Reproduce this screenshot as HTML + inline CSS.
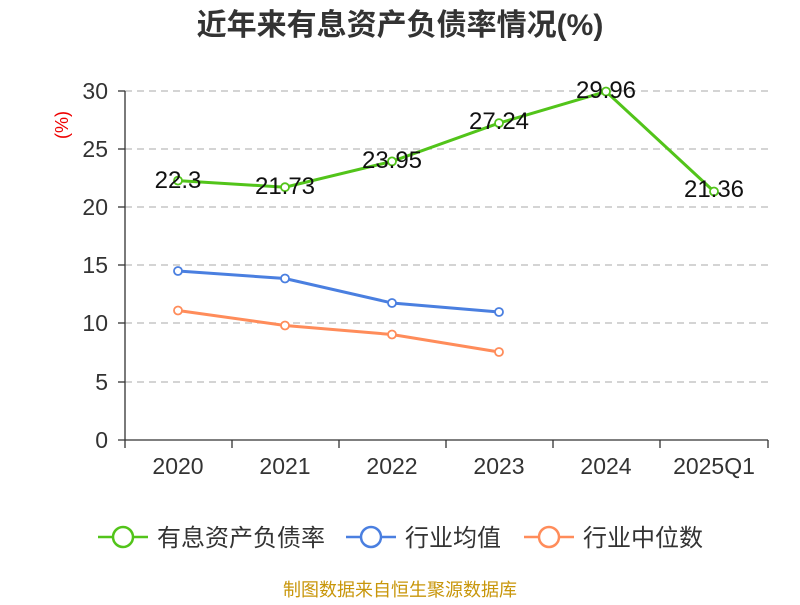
<!DOCTYPE html>
<html><head><meta charset="utf-8"><style>
body{margin:0;background:#fff;}
text{font-family:"Liberation Sans","Noto Sans CJK SC",sans-serif;}
</style></head><body>
<svg width="800" height="600" viewBox="0 0 800 600" xmlns="http://www.w3.org/2000/svg">
<rect width="800" height="600" fill="#fff"/>
<text x="400" y="35" text-anchor="middle" font-size="30" font-weight="bold" fill="#333">近年来有息资产负债率情况(%)</text>
<text x="68" y="125" font-size="18" fill="#e00" text-anchor="middle" transform="rotate(-90 68 125)">(%)</text>
<g stroke="#bbb" stroke-dasharray="7,5" stroke-width="1.3">
<line x1="125" y1="91" x2="768" y2="91"/>
<line x1="125" y1="149" x2="768" y2="149"/>
<line x1="125" y1="207" x2="768" y2="207"/>
<line x1="125" y1="265" x2="768" y2="265"/>
<line x1="125" y1="323" x2="768" y2="323"/>
<line x1="125" y1="382" x2="768" y2="382"/>
</g>
<g stroke="#333" stroke-width="1.3">
<line x1="125" y1="91" x2="125" y2="440"/>
<line x1="118" y1="91" x2="125" y2="91"/>
<line x1="118" y1="149" x2="125" y2="149"/>
<line x1="118" y1="207" x2="125" y2="207"/>
<line x1="118" y1="265" x2="125" y2="265"/>
<line x1="118" y1="323" x2="125" y2="323"/>
<line x1="118" y1="382" x2="125" y2="382"/>
<line x1="118" y1="440" x2="768" y2="440"/>
<line x1="125" y1="440" x2="125" y2="448"/>
<line x1="232" y1="440" x2="232" y2="448"/>
<line x1="339" y1="440" x2="339" y2="448"/>
<line x1="446" y1="440" x2="446" y2="448"/>
<line x1="553" y1="440" x2="553" y2="448"/>
<line x1="660" y1="440" x2="660" y2="448"/>
<line x1="768" y1="440" x2="768" y2="448"/>
</g>
<g font-size="23" fill="#333" text-anchor="end">
<text x="108" y="99">30</text><text x="108" y="157">25</text><text x="108" y="215">20</text>
<text x="108" y="273">15</text><text x="108" y="331">10</text><text x="108" y="390">5</text><text x="108" y="448">0</text>
</g>
<g font-size="23" fill="#333" text-anchor="middle">
<text x="178" y="474">2020</text><text x="285" y="474">2021</text><text x="392" y="474">2022</text>
<text x="499" y="474">2023</text><text x="606" y="474">2024</text><text x="714" y="474">2025Q1</text>
</g>
<polyline fill="none" stroke="#52c41a" stroke-width="3" points="178,180.6 285,187.2 392,161.4 499,123.1 606,91.5 714,191.5"/>
<polyline fill="none" stroke="#4a7fe0" stroke-width="3" points="178,271 285,278.5 392,303 499,312"/>
<polyline fill="none" stroke="#ff8c5a" stroke-width="3" points="178,310.5 285,325.5 392,334.5 499,352"/>
<g fill="#fff" stroke-width="1.8">
<g stroke="#52c41a"><circle cx="178" cy="180.6" r="4"/><circle cx="285" cy="187.2" r="4"/><circle cx="392" cy="161.4" r="4"/><circle cx="499" cy="123.1" r="4"/><circle cx="606" cy="91.5" r="4"/><circle cx="714" cy="191.5" r="4"/></g>
<g stroke="#4a7fe0"><circle cx="178" cy="271" r="4"/><circle cx="285" cy="278.5" r="4"/><circle cx="392" cy="303" r="4"/><circle cx="499" cy="312" r="4"/></g>
<g stroke="#ff8c5a"><circle cx="178" cy="310.5" r="4"/><circle cx="285" cy="325.5" r="4"/><circle cx="392" cy="334.5" r="4"/><circle cx="499" cy="352" r="4"/></g>
</g>
<g font-size="24" fill="#111" text-anchor="middle">
<text x="178" y="188">22.3</text><text x="285" y="194">21.73</text><text x="392" y="168">23.95</text>
<text x="499" y="129">27.24</text><text x="606" y="98">29.96</text><text x="714" y="197">21.36</text>
</g>
<g stroke-width="2.5" fill="#fff">
<line x1="98" y1="537" x2="148" y2="537" stroke="#52c41a"/><circle cx="123" cy="537" r="10" stroke="#52c41a"/>
<line x1="346" y1="537" x2="396" y2="537" stroke="#4a7fe0"/><circle cx="371" cy="537" r="10" stroke="#4a7fe0"/>
<line x1="524" y1="537" x2="574" y2="537" stroke="#ff8c5a"/><circle cx="549" cy="537" r="10" stroke="#ff8c5a"/>
</g>
<g font-size="24" fill="#333">
<text x="157" y="546">有息资产负债率</text><text x="405" y="546">行业均值</text><text x="583" y="546">行业中位数</text>
</g>
<text x="400" y="596" text-anchor="middle" font-size="18" fill="#c8960a">制图数据来自恒生聚源数据库</text>
</svg>
</body></html>
